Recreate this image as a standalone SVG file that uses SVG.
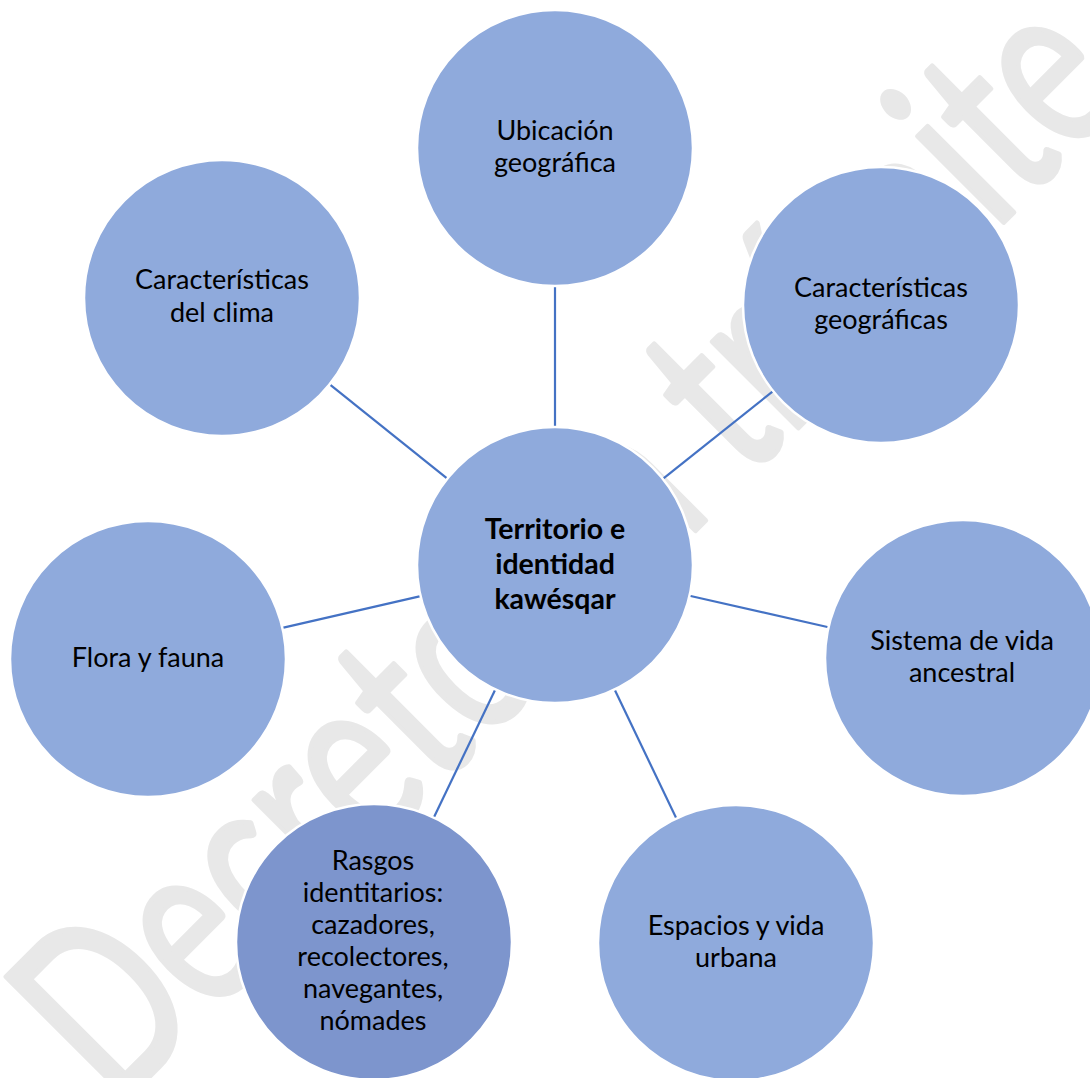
<svg xmlns="http://www.w3.org/2000/svg" width="1090" height="1078" viewBox="0 0 1090 1078">
<style>
.node{fill:#8FAADC;stroke:#FFFFFF;stroke-width:2.5}
.node.dark{fill:#7D95CD}
.lbl{font-family:Lato,"Open Sans","Liberation Sans",sans-serif;font-size:27px;fill:#000000;text-anchor:middle}
.lbl.b{font-weight:bold;font-size:28.5px}
.conn line{stroke:#4472C4;stroke-width:2.2}
.wm{font-family:Lato,"Open Sans","Liberation Sans",sans-serif;font-size:240px;fill:#E8E8E8;stroke:#E8E8E8;stroke-width:5;stroke-linejoin:round}
</style>
<rect x="0" y="0" width="1090" height="1078" fill="#FFFFFF"/>
<g id="watermark">
<text class="wm" transform="translate(116 1110) rotate(-45)" x="0" y="0" textLength="1436" lengthAdjust="spacingAndGlyphs">Decreto en trámite</text>
</g>
<g id="connectors" class="conn">
<line x1="555" y1="427" x2="555" y2="287"/>
<line x1="447.3" y1="478.6" x2="329.7" y2="384.4"/>
<line x1="662.9" y1="478.9" x2="773.1" y2="391.1"/>
<line x1="420.6" y1="596.1" x2="282.4" y2="627.9"/>
<line x1="689.5" y1="595.7" x2="828.5" y2="627.3"/>
<line x1="495.3" y1="689.4" x2="433.7" y2="817.7"/>
<line x1="614.6" y1="689.5" x2="676.4" y2="818.5"/>
</g>
<g id="node-center">
<circle class="node" cx="555" cy="565" r="138"/>
<text class="lbl b" x="555" y="539">Territorio e</text>
<text class="lbl b" x="555" y="574">identidad</text>
<text class="lbl b" x="555" y="609">kawésqar</text>
</g>
<g id="node-ubicacion">
<circle class="node" cx="555" cy="148" r="138"/>
<text class="lbl" x="555" y="140">Ubicación</text>
<text class="lbl" x="555" y="172">geográfica</text>
</g>
<g id="node-clima">
<circle class="node" cx="222" cy="298" r="138"/>
<text class="lbl" x="222" y="289">Características</text>
<text class="lbl" x="222" y="322">del clima</text>
</g>
<g id="node-geograficas">
<circle class="node" cx="881" cy="305" r="138"/>
<text class="lbl" x="881" y="297">Características</text>
<text class="lbl" x="881" y="329">geográficas</text>
</g>
<g id="node-flora">
<circle class="node" cx="148" cy="659" r="138"/>
<text class="lbl" x="148" y="667">Flora y fauna</text>
</g>
<g id="node-sistema">
<circle class="node" cx="963" cy="658" r="138"/>
<text class="lbl" x="962" y="650">Sistema de vida</text>
<text class="lbl" x="962" y="682">ancestral</text>
</g>
<g id="node-espacios">
<circle class="node" cx="736" cy="943" r="138"/>
<text class="lbl" x="736" y="935">Espacios y vida</text>
<text class="lbl" x="736" y="967">urbana</text>
</g>
<g id="node-rasgos">
<circle class="node dark" cx="374" cy="942" r="138"/>
<text class="lbl" x="373" y="870">Rasgos</text>
<text class="lbl" x="373" y="902">identitarios:</text>
<text class="lbl" x="373" y="934">cazadores,</text>
<text class="lbl" x="373" y="966">recolectores,</text>
<text class="lbl" x="373" y="998">navegantes,</text>
<text class="lbl" x="373" y="1030">nómades</text>
</g>
</svg>
